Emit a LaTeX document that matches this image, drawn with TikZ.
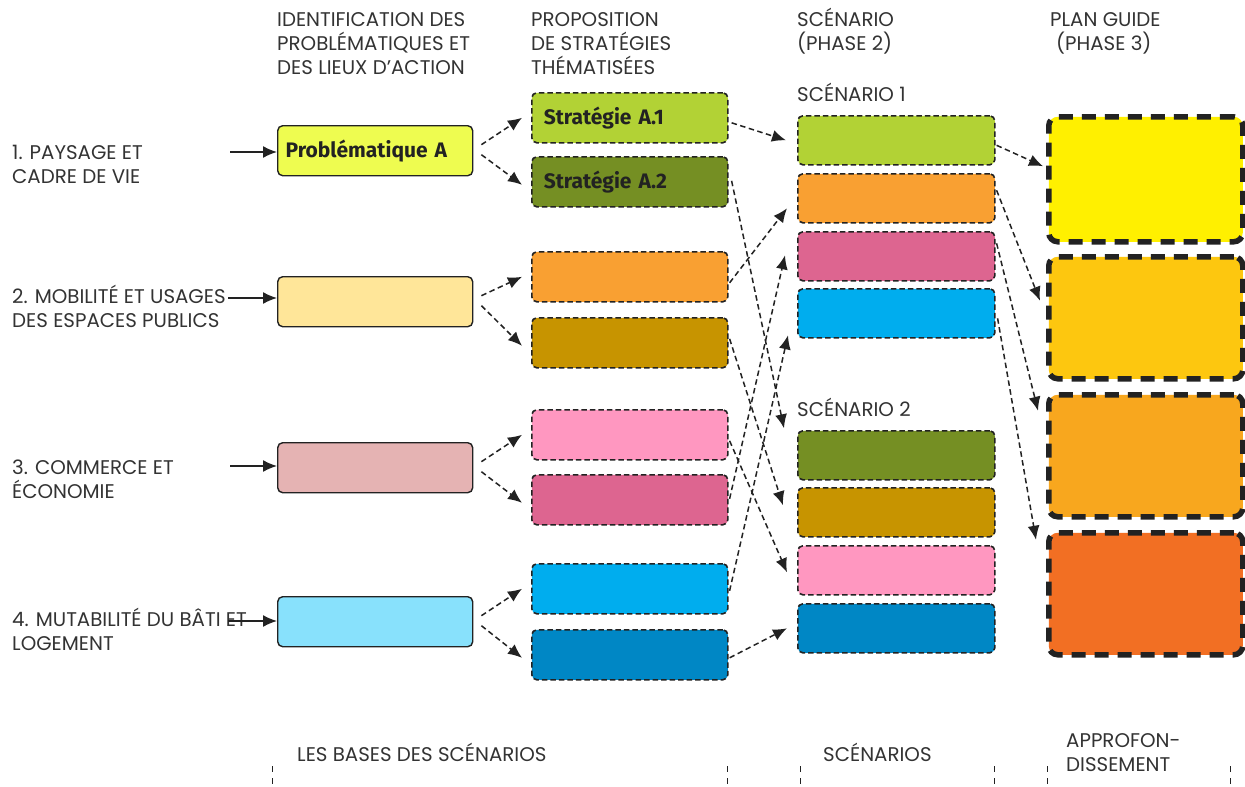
\documentclass[tikz,border=0pt]{standalone}
\usepackage{fontspec}
\setmainfont{Poppins}
\newfontfamily\boldfont{Fira Sans}
\usetikzlibrary{arrows.meta,calc}
\definecolor{txt}{HTML}{333333}
\definecolor{ln}{HTML}{222222}
\definecolor{cPA}{HTML}{EEFC50}
\definecolor{cPB}{HTML}{FFE699}
\definecolor{cPC}{HTML}{E5B3B3}
\definecolor{cPD}{HTML}{88E1FC}
\definecolor{cLG}{HTML}{B2D235}
\definecolor{cDG}{HTML}{758F23}
\definecolor{cOR}{HTML}{F9A032}
\definecolor{cGO}{HTML}{C79400}
\definecolor{cPK}{HTML}{FF97C0}
\definecolor{cDP}{HTML}{DD6590}
\definecolor{cLB}{HTML}{00ADEE}
\definecolor{cDB}{HTML}{0087C5}
\definecolor{cY1}{HTML}{FFF000}
\definecolor{cY2}{HTML}{FDC70F}
\definecolor{cY3}{HTML}{F8A71E}
\definecolor{cY4}{HTML}{F26F23}
\tikzset{
  lbl/.style={font=\fontsize{19.8}{23.7}\selectfont, text=txt, align=left, anchor=base west, inner sep=0pt},
  probbox/.style={draw=ln, line width=1.4pt, rounded corners=5pt, minimum width=195pt, minimum height=50pt, anchor=north west, inner xsep=8pt, text width=179pt, align=left, font=\boldfont\bfseries\fontsize{21}{22}\selectfont, text=ln},
  stratbox/.style={draw=ln, line width=1.6pt, dash pattern=on 5.5pt off 3pt, rounded corners=5pt, minimum width=196pt, minimum height=50pt, anchor=north west, inner xsep=12pt, text width=172pt, align=left, font=\boldfont\bfseries\fontsize{21}{22}\selectfont, text=ln},
  scenbox/.style={draw=ln, line width=1.6pt, dash pattern=on 5.5pt off 3pt, rounded corners=5pt, minimum width=197pt, minimum height=49pt, anchor=north west},
  bigbox/.style={draw=ln, line width=5.5pt, dash pattern=on 14pt off 9pt, rounded corners=9pt, minimum width=194pt, minimum height=125pt, anchor=north west},
  arr/.style={draw=ln, line width=1.5pt, dash pattern=on 5.5pt off 3.5pt, -{Latex[length=14pt,width=12pt]}},
  inarr/.style={draw=ln, line width=1.5pt, -{Latex[length=14pt,width=12pt]}},
  tick/.style={draw=ln, line width=0.9pt, dash pattern=on 6pt off 6pt}
}
\begin{document}
\begin{tikzpicture}[x=1pt,y=-1pt]
\useasboundingbox[fill=white] (0,0) rectangle (1245,787);

% headers (anchor = baseline of last line)
\node[lbl] (h1) at (277,74) {IDENTIFICATION DES\\PROBLÉMATIQUES ET\\DES LIEUX D’ACTION};
\node[lbl] (h2) at (531,74) {PROPOSITION\\DE STRATÉGIES\\THÉMATISÉES};
\node[lbl] (h3) at (797,50) {SCÉNARIO\\(PHASE 2)};
\node[lbl] (h4) at (1050,50) {PLAN GUIDE\\\hspace*{6pt}(PHASE 3)};
\node[lbl] (s1lbl) at (797,101) {SCÉNARIO 1};
\node[lbl] (s2lbl) at (797,416) {SCÉNARIO 2};

% left labels
\node[lbl] (l1) at (12,183) {1. PAYSAGE ET\\CADRE DE VIE};
\node[lbl] (l2) at (12,327) {2. MOBILITÉ ET USAGES\\DES ESPACES PUBLICS};
\node[lbl] (l3) at (12,498) {3. COMMERCE ET\\ÉCONOMIE};
\node[lbl] (l4) at (12,650) {4. MUTABILITÉ DU BÂTI ET\\LOGEMENT};

% bottom labels
\node[lbl] (b1) at (297,761) {LES BASES DES SCÉNARIOS};
\node[lbl] (b2) at (823,761) {SCÉNARIOS};
\node[lbl] (b3) at (1066,771) {APPROFON-\\DISSEMENT};

% column 1
\node[probbox, fill=cPA] (pA) at (277,125) {Problématique A};
\node[probbox, fill=cPB] (pB) at (277,276) {};
\node[probbox, fill=cPC] (pC) at (277,442) {};
\node[probbox, fill=cPD] (pD) at (277,596) {};

% column 2
\node[stratbox, fill=cLG] (sA1) at (531,92) {Stratégie A.1};
\node[stratbox, fill=cDG] (sA2) at (531,156) {Stratégie A.2};
\node[stratbox, fill=cOR] (sB1) at (531,251) {};
\node[stratbox, fill=cGO] (sB2) at (531,317) {};
\node[stratbox, fill=cPK] (sC1) at (531,409) {};
\node[stratbox, fill=cDP] (sC2) at (531,474) {};
\node[stratbox, fill=cLB] (sD1) at (531,563) {};
\node[stratbox, fill=cDB] (sD2) at (531,629) {};

% column 3
\node[scenbox, fill=cLG] (c1) at (797,115) {};
\node[scenbox, fill=cOR] (c2) at (797,173) {};
\node[scenbox, fill=cDP] (c3) at (797,231) {};
\node[scenbox, fill=cLB] (c4) at (797,288) {};
\node[scenbox, fill=cDG] (d1) at (797,430) {};
\node[scenbox, fill=cGO] (d2) at (797,487) {};
\node[scenbox, fill=cPK] (d3) at (797,545) {};
\node[scenbox, fill=cDB] (d4) at (797,603) {};

% column 4
\node[bigbox, fill=cY1, minimum height=125pt] (g1) at (1046,114) {};
\node[bigbox, fill=cY2, minimum height=122pt] (g2) at (1046,254) {};
\node[bigbox, fill=cY3, minimum height=122pt] (g3) at (1046,392) {};
\node[bigbox, fill=cY4, minimum height=122pt] (g4) at (1046,530) {};

% input arrows
\coordinate (iA) at (230,152);
\coordinate (iB) at (228,298);
\coordinate (iC) at (230,466);
\coordinate (iD) at (228,621);
\draw[inarr] (iA) -- (iA -| pA.west);
\draw[inarr] (iB) -- (iB -| pB.west);
\draw[inarr] (iC) -- (iC -| pC.west);
\draw[inarr] (iD) -- (iD -| pD.west);

% column 1 -> column 2
\foreach \p/\u/\d in {pA/sA1/sA2, pB/sB1/sB2, pC/sC1/sC2, pD/sD1/sD2}{
  \draw[arr] ($(\p.east)+(8,-6)$) -- ($(\u.west)+(-9,0)$);
  \draw[arr] ($(\p.east)+(8,4)$) -- ($(\d.west)+(-9,3)$);
}

% column 2 -> column 3
\draw[arr] ($(sA1.east)+(3,5)$) -- ($(c1.west)+(-11,0)$);
\draw[arr] ($(sA2.east)+(3,-1)$) -- ($(d1.west)+(-13,-27)$);
\draw[arr] ($(sB1.east)+(1,6)$) -- ($(c2.west)+(-10,10)$);
\draw[arr] ($(sB2.east)+(1,-4)$) -- ($(d2.west)+(-14,-7)$);
\draw[arr] ($(sC1.east)+(1,6)$) -- ($(d3.west)+(-10,2)$);
\draw[arr] ($(sC2.east)+(1,-1)$) -- ($(c3.west)+(-12,-1)$);
\draw[arr] ($(sD1.east)+(1,2)$) -- ($(c4.west)+(-9,22)$);
\draw[arr] ($(sD2.east)+(1,3)$) -- ($(d4.west)+(-10,0)$);

% column 3 -> column 4
\draw[arr] ($(c1.east)+(1,5)$) -- ($(g1.west)+(-3,-13)$);
\draw[arr] ($(c2.east)+(1,-8)$) -- ($(g2.west)+(-6,-17)$);
\draw[arr] ($(c3.east)+(1,-13)$) -- ($(g3.west)+(-8,-45)$);
\draw[arr] ($(c4.east)+(2,5)$) -- ($(g4.west)+(-10,-54)$);

% bottom ticks
\foreach \x in {272,727,800,994,1047,1230}{
  \draw[tick] (\x,766) -- (\x,787);
}
\end{tikzpicture}
\end{document}
